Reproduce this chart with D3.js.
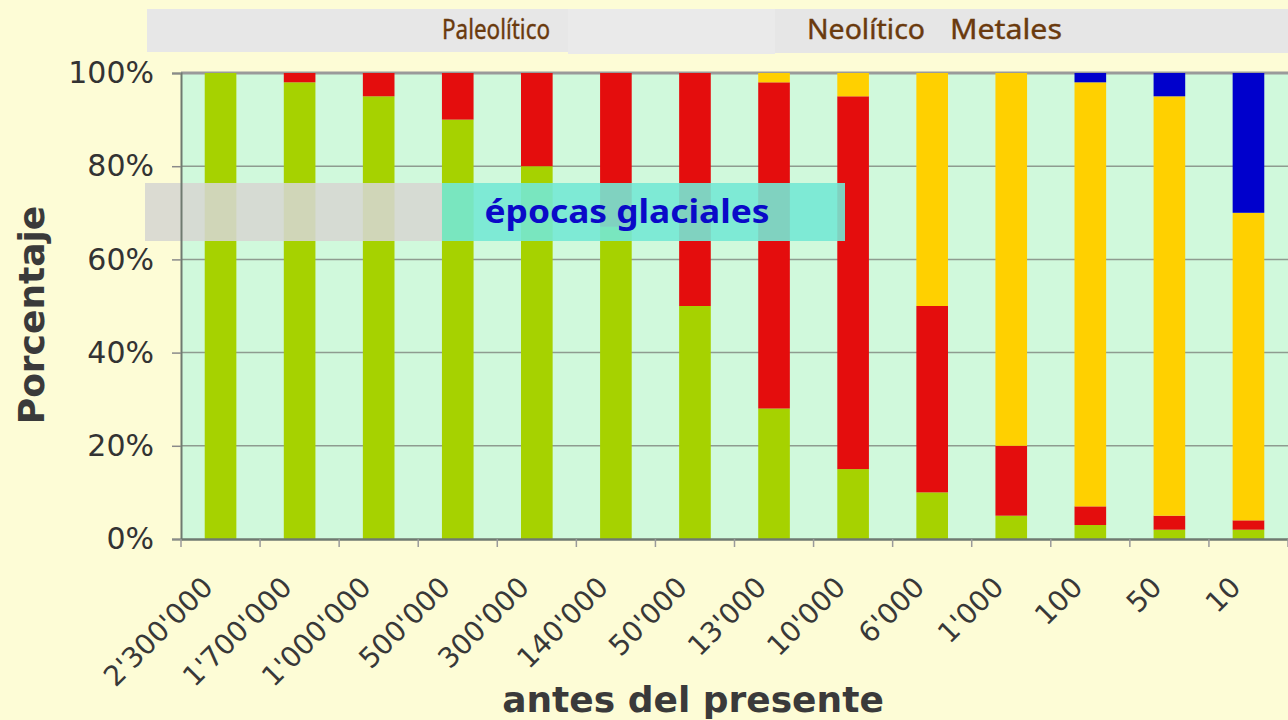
<!DOCTYPE html>
<html>
<head>
<meta charset="utf-8">
<script src="https://cdn.jsdelivr.net/npm/d3@7"></script>
<style>
  body { margin: 0; background: #fdfcd6; }
  svg { display: block; }
</style>
</head>
<body>
<div id="chart-area"></div>
<script>
// categories (years before present) and stacked shares, bottom to top
const categories = ["2'300'000", "1'700'000", "1'000'000", "500'000", "300'000", "140'000",
  "50'000", "13'000", "10'000", "6'000", "1'000", "100", "50", "10"];
const greenVals  = [100, 98, 95, 90, 80, 67, 50, 28, 15, 10, 5, 3, 2, 2];
const redVals    = [0, 2, 5, 10, 20, 33, 50, 70, 80, 40, 15, 4, 3, 2];
const yellowVals = [0, 0, 0, 0, 0, 0, 0, 2, 5, 50, 80, 91, 90, 66];
const blueVals   = [0, 0, 0, 0, 0, 0, 0, 0, 0, 0, 0, 2, 5, 30];
const yTicks = [0, 20, 40, 60, 80, 100];

const seriesKeys = ["green", "red", "yellow", "blue"];
const colors = { green: "#a6d200", red: "#e40d0d", yellow: "#ffd000", blue: "#0000cc" };

const W = 1288, H = 720;
const plotL = 181, plotR = 1288, plotT = 73, plotB = 539;

const svg = d3.select("#chart-area").append("svg")
  .attr("width", W)
  .attr("height", H)

svg.append("rect").attr("width", W).attr("height", H).attr("fill", "#fdfcd6")

// period header band
const header = svg.append("g")
header.append("rect").attr("x", 147).attr("y", 9).attr("width", 421).attr("height", 43).attr("fill", "#e7e7e7")
header.append("rect").attr("x", 568).attr("y", 9).attr("width", 207).attr("height", 45).attr("fill", "#eaeaea")
header.append("rect").attr("x", 775).attr("y", 9).attr("width", 513).attr("height", 44).attr("fill", "#e6e6e6")

const periods = [
  { name: "Paleolítico", x: 496, w: 108 },
  { name: "Neolítico", x: 866, w: 118 },
  { name: "Metales", x: 1006, w: 112 }
];
header.selectAll("text.period").data(periods).enter().append("text")
  .attr("class", "period")
  .attr("x", d => d.x)
  .attr("y", 39)
  .attr("text-anchor", "middle")
  .attr("font-family", "'Comic Sans MS', 'Noto Sans', sans-serif")
  .attr("font-size", 28)
  .attr("fill", "#6a3a0e")
  .attr("stroke", "#6a3a0e")
  .attr("stroke-width", 0.4)
  .attr("textLength", d => d.w)
  .attr("lengthAdjust", "spacingAndGlyphs")
  .text(d => d.name)

const data = categories.map((c, i) => ({
  cat: c, green: greenVals[i], red: redVals[i], yellow: yellowVals[i], blue: blueVals[i]
}));

const x = d3.scaleBand()
  .domain(categories)
  .range([plotL, plotR])
  .paddingInner(0.6)
  .paddingOuter(0.3)

const y = d3.scaleLinear()
  .domain([0, 100])
  .range([plotB, plotT])

// plot area
svg.append("rect")
  .attr("x", plotL).attr("y", plotT)
  .attr("width", plotR - plotL).attr("height", plotB - plotT)
  .attr("fill", "#d0f9dc")

// gridlines
svg.append("g").selectAll("line").data(yTicks.filter(t => t > 0)).enter().append("line")
  .attr("x1", plotL).attr("x2", plotR)
  .attr("y1", d => y(d)).attr("y2", d => y(d))
  .attr("stroke", d => d === 100 ? "#9a9a9a" : "#8e9c90")
  .attr("stroke-width", d => d === 100 ? 3 : 1.5)

const stacked = d3.stack().keys(seriesKeys)(data);

svg.append("g").selectAll("g").data(stacked).enter().append("g")
  .attr("fill", d => colors[d.key])
  .selectAll("rect").data(d => d).enter().append("rect")
  .attr("x", d => x(d.data.cat))
  .attr("width", x.bandwidth())
  .attr("y", d => y(d[1]))
  .attr("height", d => y(d[0]) - y(d[1]))

// glacial epochs band
const glac = svg.append("g")
glac.append("rect").attr("x", 145).attr("y", 183).attr("width", 297).attr("height", 58)
  .attr("fill", "#d6d6d2").attr("opacity", 0.88)
glac.append("rect").attr("x", 442).attr("y", 183).attr("width", 403).attr("height", 58)
  .attr("fill", "#74e8d4").attr("opacity", 0.9)
glac.append("text")
  .attr("x", 627).attr("y", 223)
  .attr("text-anchor", "middle")
  .attr("font-family", "'Comic Sans MS', 'Noto Sans', sans-serif")
  .attr("font-size", 32)
  .attr("font-weight", "bold")
  .attr("fill", "#0a0ac8")
  .attr("textLength", 285)
  .attr("lengthAdjust", "spacingAndGlyphs")
  .text("épocas glaciales")

// y axis
const yAxis = d3.axisLeft(y).tickValues(yTicks).tickFormat(d => d + "%").tickSize(9).tickPadding(18)
const gy = svg.append("g").attr("transform", `translate(${plotL},0)`).call(yAxis)
gy.select(".domain").attr("stroke", "#6f7a70").attr("stroke-width", 2)
gy.selectAll(".tick line").attr("stroke", "#8a8a8a").attr("stroke-width", 1.5)
gy.selectAll(".tick text")
  .attr("font-family", "Verdana, 'DejaVu Sans', sans-serif")
  .attr("font-size", 30)
  .attr("fill", "#333")

// x axis
const xAxis = d3.axisBottom(x).tickSize(0).tickFormat("")
const gx = svg.append("g").attr("transform", `translate(0,${plotB})`).call(xAxis)
gx.select(".domain").attr("stroke", "#6f7a70").attr("stroke-width", 2.5)

// tick marks between categories
const boundaries = categories.map(c => x(c) - x.step() * x.paddingInner() / 2).concat([plotR]);
gx.selectAll("line.sep").data(boundaries).enter().append("line")
  .attr("class", "sep")
  .attr("x1", d => d).attr("x2", d => d)
  .attr("y1", 0).attr("y2", 8)
  .attr("stroke", "#9a9a9a").attr("stroke-width", 1.5)

svg.append("g").selectAll("text").data(categories).enter().append("text")
  .attr("transform", d => `translate(${x(d) + x.bandwidth() / 2 - 6},${plotB + 50}) rotate(-45)`)
  .attr("text-anchor", "end")
  .attr("font-family", "Verdana, 'DejaVu Sans', sans-serif")
  .attr("font-size", 28)
  .attr("fill", "#383838")
  .text(d => d)

// axis titles
svg.append("text")
  .attr("transform", `translate(44,315) rotate(-90)`)
  .attr("text-anchor", "middle")
  .attr("font-family", "'DejaVu Sans', sans-serif")
  .attr("font-weight", "bold")
  .attr("font-size", 36)
  .attr("fill", "#3a3a3a")
  .text("Porcentaje")

svg.append("text")
  .attr("x", 693).attr("y", 712)
  .attr("text-anchor", "middle")
  .attr("font-family", "'DejaVu Sans', sans-serif")
  .attr("font-weight", "bold")
  .attr("font-size", 36)
  .attr("fill", "#3a3a3a")
  .text("antes del presente")
</script>
</body>
</html>
